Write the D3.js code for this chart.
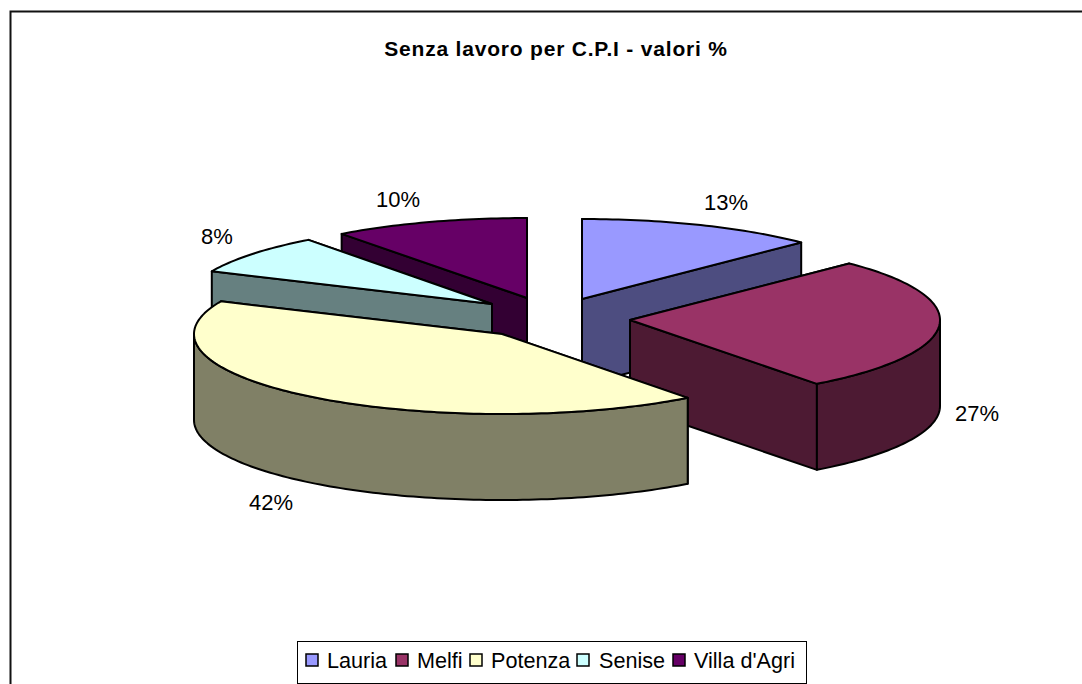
<!DOCTYPE html>
<html>
<head>
<meta charset="utf-8">
<script src="https://cdn.jsdelivr.net/npm/d3@7"></script>
<style>
html,body{margin:0;padding:0;background:#fff;overflow:hidden}
svg{display:block}
text{font-family:"Liberation Sans",Arial,sans-serif;fill:#000}
</style>
</head>
<body>
<svg id="c" width="1082" height="684"></svg>
<script>
const categories = ["Lauria","Melfi","Potenza","Senise","Villa d'Agri"];
const values = [12.5,27.2,42.0,8.1,10.2];
const topColors = ["#9999FF","#993366","#FFFFCC","#CCFFFF","#660066"];
const wallColors = ["#4D4D80","#4D1A33","#808066","#668080","#330033"];
const titleText = "Senza lavoro per C.P.I - valori %";

// layout only
const apexes = [[582,299],[630,320],[502,334],[492,304],[527,298]];
const radiiX = [310,310,308,307,310];
const labelAt = [[726,202],[977,413],[271,502],[217,236],[398,199]];
const legendSwatchX = [306,396,470,577,673];
const legendTextX = [327,417,491,599,694];
const drawOrder = [4,3,0,1,2];
const ry = 80, depth = 86;

const svg = d3.select("#c");
const fmt = d3.format(".0%");
const total = d3.sum(values);
const arcs = d3.pie().sort(null).value(d=>d)(values);
const line = d3.line();
const pt = (i,a,dy=0)=>[apexes[i][0]+radiiX[i]*Math.sin(a), apexes[i][1]-ry*Math.cos(a)+dy];
const sample = (a0,a1)=>{
  const n = Math.max(2,Math.ceil(Math.abs(a1-a0)/0.02));
  return d3.range(n+1).map(k=>a0+(a1-a0)*k/n);
};
const style = (s,fill)=>s.attr("fill",fill).attr("stroke","#000").attr("stroke-width",2).attr("stroke-linejoin","round");

// frame, open at the right and bottom where the page crops it
svg.append("path").attr("d",line([[10.5,684],[10.5,11.5],[1082,11.5]]))
  .attr("fill","none").attr("stroke","#111").attr("stroke-width",2);

svg.append("text").attr("x",556).attr("y",56).attr("text-anchor","middle")
  .attr("font-size",21).attr("font-weight","bold").attr("letter-spacing",0.8).text(titleText);

const pies = svg.append("g");
drawOrder.forEach(i=>{
  const d = arcs[i], g = pies.append("g");
  const A = apexes[i];
  // radial walls: the one reaching further down the page sits in front
  [d.startAngle,d.endAngle].sort((a,b)=>pt(i,a)[1]-pt(i,b)[1]).forEach(a=>{
    const p = pt(i,a), q = pt(i,a,depth);
    style(g.append("path").attr("d",line([A,p,q,[A[0],A[1]+depth]])+"Z"),wallColors[i]);
  });
  const w0 = Math.max(d.startAngle,Math.PI/2), w1 = Math.min(d.endAngle,Math.PI*1.5);
  if(w1>w0){
    const s = sample(w0,w1);
    const poly = s.map(a=>pt(i,a)).concat(s.slice().reverse().map(a=>pt(i,a,depth)));
    style(g.append("path").attr("d",line(poly)+"Z"),wallColors[i]);
  }
  const topPts = [A].concat(sample(d.startAngle,d.endAngle).map(a=>pt(i,a)));
  style(g.append("path").attr("d",line(topPts)+"Z"),topColors[i]);
});

values.forEach((v,i)=>{
  svg.append("text").attr("x",labelAt[i][0]).attr("y",labelAt[i][1])
    .attr("text-anchor","middle").attr("dominant-baseline","central")
    .attr("font-size",22).text(fmt(v/total));
});

const leg = svg.append("g");
leg.append("rect").attr("x",297.5).attr("y",641.5).attr("width",509).attr("height",42)
  .attr("fill","#fff").attr("stroke","#000").attr("stroke-width",1);
categories.forEach((c,i)=>{
  leg.append("rect").attr("x",legendSwatchX[i]).attr("y",654).attr("width",12).attr("height",12)
    .attr("fill",topColors[i]).attr("stroke","#000").attr("stroke-width",1.5);
  leg.append("text").attr("x",legendTextX[i]).attr("y",660).attr("dominant-baseline","central")
    .attr("font-size",21.6).text(c);
});
</script>
</body>
</html>
